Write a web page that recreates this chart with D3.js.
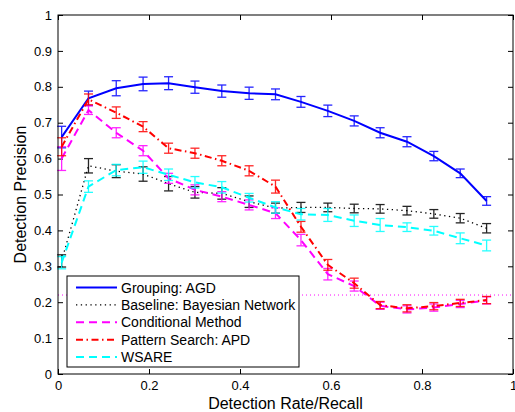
<!DOCTYPE html>
<html>
<head>
<meta charset="utf-8">
<script src="https://cdn.jsdelivr.net/npm/d3@7"></script>
<style>
  body { margin: 0; background: #fff; }
  text { font-family: "Liberation Sans", Arial, sans-serif; }
</style>
</head>
<body>
<div id="chart"></div>
<script>
// detection rate (x) shared by all series
const recall = [0.008, 0.067, 0.128, 0.187, 0.243, 0.301, 0.36, 0.42, 0.478, 0.534, 0.593, 0.651, 0.708, 0.767, 0.826, 0.884, 0.942];

const groupingAGD = [0.66, 0.768, 0.796, 0.808, 0.81, 0.799, 0.788, 0.782, 0.779, 0.758, 0.733, 0.705, 0.672, 0.647, 0.607, 0.559, 0.482];
const groupingErr = [0.03, 0.02, 0.021, 0.019, 0.018, 0.017, 0.017, 0.017, 0.015, 0.015, 0.016, 0.014, 0.014, 0.014, 0.013, 0.012, 0.012];

const baselineBN = [0.315, 0.58, 0.565, 0.557, 0.53, 0.506, 0.503, 0.48, 0.462, 0.464, 0.464, 0.461, 0.46, 0.455, 0.446, 0.434, 0.406];
const baselineErr = [0.017, 0.02, 0.018, 0.02, 0.02, 0.016, 0.016, 0.016, 0.014, 0.014, 0.012, 0.012, 0.012, 0.012, 0.012, 0.013, 0.013];

const conditional = [0.60, 0.735, 0.672, 0.622, 0.545, 0.513, 0.494, 0.471, 0.448, 0.373, 0.278, 0.245, 0.19, 0.18, 0.185, 0.195, 0.205];
const conditionalErr = [0.033, 0.012, 0.014, 0.014, 0.014, 0.014, 0.014, 0.014, 0.015, 0.016, 0.016, 0.014, 0.01, 0.01, 0.01, 0.01, 0.01];

const patternAPD = [0.633, 0.765, 0.728, 0.689, 0.629, 0.615, 0.594, 0.566, 0.522, 0.41, 0.304, 0.253, 0.192, 0.183, 0.189, 0.198, 0.206];
const patternErr = [0.025, 0.015, 0.016, 0.014, 0.014, 0.014, 0.014, 0.014, 0.018, 0.015, 0.015, 0.014, 0.01, 0.01, 0.01, 0.01, 0.01];

const wsare = [0.31, 0.522, 0.568, 0.576, 0.555, 0.534, 0.52, 0.491, 0.464, 0.445, 0.443, 0.427, 0.415, 0.409, 0.399, 0.378, 0.358];
const wsareErr = [0.017, 0.016, 0.016, 0.017, 0.016, 0.016, 0.016, 0.012, 0.016, 0.016, 0.018, 0.016, 0.018, 0.012, 0.012, 0.015, 0.015];

const refLevel = [0.22];

const xTicks = [0, 0.2, 0.4, 0.6, 0.8, 1];
const yTicks = [0, 0.1, 0.2, 0.3, 0.4, 0.5, 0.6, 0.7, 0.8, 0.9, 1];

const series = [
  {name: "Grouping: AGD", values: groupingAGD, err: groupingErr, color: "#0000ff", dash: null, width: 2},
  {name: "Baseline: Bayesian Network", values: baselineBN, err: baselineErr, color: "#000000", dash: "1.3,3.5", width: 1.3},
  {name: "Conditional Method", values: conditional, err: conditionalErr, color: "#ff00ff", dash: "8,5", width: 2},
  {name: "Pattern Search: APD", values: patternAPD, err: patternErr, color: "#ff0000", dash: "7,3.5,1.5,3.5", width: 2},
  {name: "WSARE", values: wsare, err: wsareErr, color: "#00ffff", dash: "8,5", width: 2}
];

const margin = {top: 15, right: 2, bottom: 38, left: 58},
    width = 515 - margin.left - margin.right,
    height = 412 - margin.top - margin.bottom;

const svg = d3.select("#chart")
    .append("svg")
    .attr("width", 515)
    .attr("height", 412)
    .append("g")
    .attr("transform", `translate(${margin.left},${margin.top})`);

const x = d3.scaleLinear().domain([0, 1]).range([0, width]);
const y = d3.scaleLinear().domain([0, 1]).range([height, 0]);

const tickFmt = d => d === 0 || d === 1 ? d3.format("d")(d) : d3.format(".1f")(d);

// axes with inward ticks on all four sides
svg.append("g")
    .attr("transform", `translate(0,${height})`)
    .call(d3.axisBottom(x).tickValues(xTicks).tickSizeInner(-5).tickSizeOuter(0).tickPadding(7).tickFormat(tickFmt))
    .call(g => g.select(".domain").remove())
    .call(g => g.selectAll("text").attr("font-size", 13).attr("fill", "#000"));

svg.append("g")
    .call(d3.axisLeft(y).tickValues(yTicks).tickSizeInner(-5).tickSizeOuter(0).tickPadding(6).tickFormat(tickFmt))
    .call(g => g.select(".domain").remove())
    .call(g => g.selectAll("text").attr("font-size", 13).attr("fill", "#000"));

svg.append("g")
    .call(d3.axisTop(x).tickValues(xTicks).tickSizeInner(-5).tickSizeOuter(0).tickFormat(""))
    .call(g => g.select(".domain").remove());

svg.append("g")
    .attr("transform", `translate(${width},0)`)
    .call(d3.axisRight(y).tickValues(yTicks).tickSizeInner(-5).tickSizeOuter(0).tickFormat(""))
    .call(g => g.select(".domain").remove());

// reference line
svg.selectAll(".ref")
    .data(refLevel)
    .join("line")
    .attr("x1", x(0)).attr("x2", x(1))
    .attr("y1", d => y(d)).attr("y2", d => y(d))
    .attr("stroke", "#ff00ff")
    .attr("stroke-width", 1)
    .attr("stroke-dasharray", "1,3");

const line = d3.line()
    .x((d, i) => x(recall[i]))
    .y(d => y(d));

series.forEach(s => {
    const g = svg.append("g");
    const pts = s.values.map((v, i) => ({x: recall[i], v: v, e: s.err[i]}));

    // error bars
    const eb = g.selectAll("g.eb")
        .data(pts)
        .join("g")
        .attr("stroke", s.color)
        .attr("stroke-width", 1.3)
        .attr("opacity", 0.85);
    eb.append("line")
        .attr("x1", d => x(d.x)).attr("x2", d => x(d.x))
        .attr("y1", d => y(d.v - d.e)).attr("y2", d => y(d.v + d.e));
    eb.append("line")
        .attr("x1", d => x(d.x) - 4.5).attr("x2", d => x(d.x) + 4.5)
        .attr("y1", d => y(d.v - d.e)).attr("y2", d => y(d.v - d.e));
    eb.append("line")
        .attr("x1", d => x(d.x) - 4.5).attr("x2", d => x(d.x) + 4.5)
        .attr("y1", d => y(d.v + d.e)).attr("y2", d => y(d.v + d.e));

    g.append("path")
        .datum(s.values)
        .attr("d", line)
        .attr("fill", "none")
        .attr("stroke", s.color)
        .attr("stroke-width", s.width)
        .attr("stroke-dasharray", s.dash);
});

// frame
svg.append("rect")
    .attr("width", width)
    .attr("height", height)
    .attr("fill", "none")
    .attr("stroke", "#000")
    .attr("stroke-width", 1);

// legend
const legend = svg.append("g")
    .attr("transform", `translate(${67 - margin.left},${276 - margin.top})`);

legend.append("rect")
    .attr("width", 232)
    .attr("height", 91)
    .attr("fill", "#fff")
    .attr("stroke", "#000")
    .attr("stroke-width", 1);

series.forEach((s, i) => {
    const ly = 11.5 + i * 17.4;
    legend.append("line")
        .attr("x1", 9).attr("x2", 50)
        .attr("y1", ly).attr("y2", ly)
        .attr("stroke", s.color)
        .attr("stroke-width", s.width)
        .attr("stroke-dasharray", s.dash);
    legend.append("text")
        .attr("x", 54)
        .attr("y", ly + 5)
        .attr("font-size", 14)
        .text(s.name);
});

// axis labels
svg.append("text")
    .attr("x", width / 2)
    .attr("y", height + 35)
    .attr("text-anchor", "middle")
    .attr("font-size", 16)
    .text("Detection Rate/Recall");

svg.append("text")
    .attr("transform", `translate(${-32},${height / 2}) rotate(-90)`)
    .attr("text-anchor", "middle")
    .attr("font-size", 16)
    .text("Detection Precision");
</script>
</body>
</html>
